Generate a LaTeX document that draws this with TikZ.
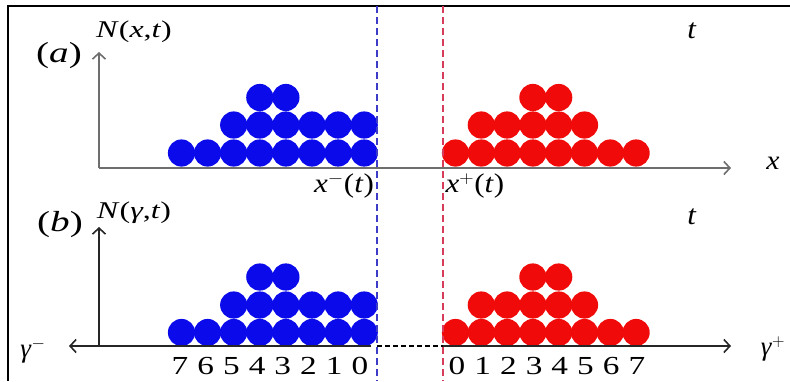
\documentclass[tikz,border=0pt]{standalone}
\usepackage{fontspec}
\setmainfont{Liberation Serif}
\usetikzlibrary{arrows.meta}
\definecolor{ballblue}{RGB}{10,10,235}
\definecolor{ballred}{RGB}{240,10,10}
\definecolor{axgray}{RGB}{110,110,110}
\definecolor{dashblue}{RGB}{60,60,200}
\definecolor{dashred}{RGB}{215,60,90}
\newcommand\sx[2]{\scalebox{#1}[1]{#2}}
\begin{document}
\begin{tikzpicture}[x=1pt,y=-1pt,
  tip/.style={-{Straight Barb[length=6pt,width=13pt,line width=1.6pt]}},
  axisA/.style={draw=axgray,line width=1.8pt,tip},
  axisB/.style={draw=black!85,line width=1.5pt,tip},
  front/.style={line width=1.6pt,dash pattern=on 7pt off 4pt},
  lbl/.style={inner sep=0pt,font=\fontsize{24}{28}\selectfont},
  sub/.style={inner sep=0pt,font=\fontsize{27}{31}\selectfont},
  tlab/.style={inner sep=0pt,font=\fontsize{28}{32}\selectfont},
  big/.style={inner sep=0pt,font=\fontsize{29}{33}\selectfont},
  num/.style={inner sep=0pt,font=\fontsize{26}{28}\selectfont}]
\useasboundingbox (0,0) rectangle (790,381);
% frame
\draw[line width=2pt] (8,381) -- (8,6) -- (790,6);
% coordinates
\coordinate (oa) at (99,168);
\coordinate (ya) at (99,52);
\coordinate (xa) at (731,168);
\coordinate (ob) at (99,346);
\coordinate (yb) at (99,227);
\coordinate (gl) at (69,346);
\coordinate (gm) at (371,346);
\coordinate (g0l) at (377,346);
\coordinate (g0r) at (443,346);
\coordinate (gr) at (731,346);
\coordinate (bt) at (377,6);
\coordinate (bb) at (377,381);
\coordinate (rt) at (443,6);
\coordinate (rb) at (443,381);
% balls
\foreach \i in {0,...,7} {\fill[ballblue] (181.5+26.1*\i,153) circle (13.6);
  \fill[ballblue] (181.5+26.1*\i,332.5) circle (13.6);}
\foreach \i in {2,...,7} {\fill[ballblue] (181.5+26.1*\i,125) circle (13.6);
  \fill[ballblue] (181.5+26.1*\i,305) circle (13.6);}
\foreach \i in {3,4} {\fill[ballblue] (181.5+26.1*\i,97.5) circle (13.6);
  \fill[ballblue] (181.5+26.1*\i,277) circle (13.6);}
\foreach \j in {0,...,7} {\fill[ballred] (455.5+25.8*\j,153) circle (13.6);
  \fill[ballred] (455.5+25.8*\j,332.5) circle (13.6);}
\foreach \j in {1,...,5} {\fill[ballred] (455.5+25.8*\j,125) circle (13.6);
  \fill[ballred] (455.5+25.8*\j,305) circle (13.6);}
\foreach \j in {3,4} {\fill[ballred] (455.5+25.8*\j,97.5) circle (13.6);
  \fill[ballred] (455.5+25.8*\j,277) circle (13.6);}
% axes
\draw[axisA] (oa) -- (ya);
\draw[axisA] (oa) -- (xa);
\draw[axisB] (ob) -- (yb);
\draw[axisB] (gm) -- (gl);
\draw[axisB] (g0r) -- (gr);
\draw[black,line width=1.2pt,dash pattern=on 5pt off 3pt] (g0l) -- (g0r);
% fronts
\draw[front,dashblue] (bt) -- (bb);
\draw[front,dashred] (rt) -- (rb);
% labels
\node[big] (la) at (59,56) {\sx{1.35}{(\textit{a})}};
\node[lbl] (Na) at (134,32) {\sx{1.33}{\textit{N}(\textit{x},\textit{t})}};
\node[tlab] (ta) at (692,31) {\sx{1.1}{\textit{t}}};
\node[sub] (xl) at (773,163) {\sx{1.1}{\textit{x}}};
\node[sub] (xm) at (344,186) {\sx{1.15}{\textit{x}$^{-}$(\textit{t})}};
\node[sub] (xp) at (475,186) {\sx{1.15}{\textit{x}$^{+}$(\textit{t})}};
\node[big] (lb) at (60,225) {\sx{1.35}{(\textit{b})}};
\node[lbl] (Nb) at (134,213) {\sx{1.33}{\textit{N}(\textit{γ},\textit{t})}};
\node[tlab] (tb) at (692,217) {\sx{1.1}{\textit{t}}};
\node[sub] (gminus) at (33,351) {\textit{γ}$^{-}$};
\node[sub] (gplus) at (773,349) {\textit{γ}$^{+}$};
\foreach \k in {0,...,7} {
  \pgfmathtruncatemacro\lab{7-\k}
  \node[num] (nl\k) at (180+25.7*\k,366) {\sx{1.28}{\lab}};
  \node[num] (nr\k) at (457+25.7*\k,366) {\sx{1.28}{\k}};
}
\end{tikzpicture}
\end{document}
